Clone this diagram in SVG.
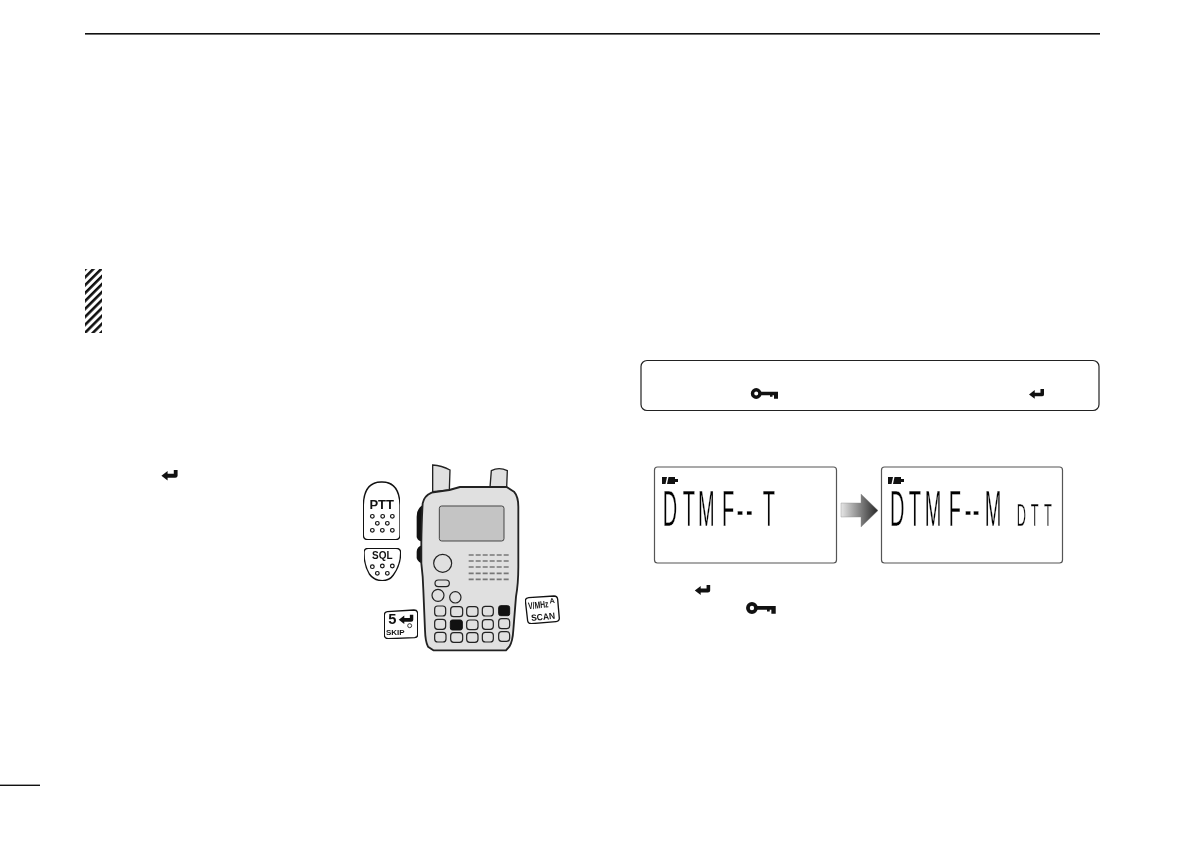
<svg xmlns="http://www.w3.org/2000/svg" width="1191" height="842" viewBox="0 0 1191 842">
<style>
.lcd{font-family:"Liberation Sans",Arial,sans-serif;font-weight:400;fill:#000;stroke:#fff;stroke-width:.45}
.tagt{font-family:"Liberation Sans",Arial,sans-serif;font-weight:700;fill:#111}
.tag{fill:#fff;stroke:#111;stroke-width:4;stroke-linejoin:round}
.dot{fill:#fff;stroke:#111;stroke-width:3.6}
.key{fill:#e0e0e0;stroke:#222;stroke-width:3.6}
.blk{fill:#111;stroke:#111;stroke-width:3}
.spk{stroke:#777;stroke-width:5;stroke-dasharray:15 6;fill:none}
.panel{fill:#fff;stroke:#222;stroke-width:1.2}
.disp{fill:#fff;stroke:#555;stroke-width:1.2}
</style>
<defs>
<filter id="gray" x="0" y="0" width="1" height="1" color-interpolation-filters="sRGB"><feOffset dx="0" dy="0"/></filter>
<linearGradient id="ag" x1="0" x2="1" y1="0" y2="0"><stop offset="0" stop-color="#e6e6e6"/><stop offset="1" stop-color="#262626"/></linearGradient>
<pattern id="hatch" width="5.6" height="5.6" patternUnits="userSpaceOnUse" patternTransform="rotate(45 85 269)"><rect width="5.6" height="5.6" fill="#fff"/><rect x="0" width="2.6" height="5.6" fill="#111"/></pattern>
<symbol id="enter" viewBox="0 0 17 10.5" overflow="visible"><path fill="#111" d="M0 6 6.5 1V4H13V0H17V6Q17 8.2 14.5 8.2H6.5V11Z"/></symbol>
<symbol id="keyi" viewBox="0 0 27 11" overflow="visible"><circle cx="5.2" cy="5.5" r="3.7" fill="none" stroke="#111" stroke-width="3.4"/><path fill="#111" d="M8.5 3.7H27V10.8H23V7.2H21.5V8.8H19V7.2H8.5Z"/></symbol>
<symbol id="batt" viewBox="0 0 16 7" overflow="visible"><path fill="#111" d="M0 0H5L3.5 7H0ZM6.5 0H13V2H16V5H13V7H5Z"/></symbol>
</defs>

<g id="page-rules">
<rect x="85" y="33" width="1015" height="1.6" fill="#111"/>
<rect x="0" y="784.6" width="40" height="1.4" fill="#111"/>
</g>
<rect id="hatch-bar" x="85" y="269" width="17" height="64" fill="url(#hatch)"/>
<use id="enter-left" href="#enter" x="161" y="470" width="17" height="10"/>

<g id="radio" transform="translate(350 450) scale(.33333)">
<path fill="#111" d="M218 165Q200 175 200 200V262Q205 275 218 275ZM218 285Q200 290 200 305V325Q205 340 220 340Z"/>
<path fill="#e0e0e0" stroke="#222" stroke-width="4" d="M248 125V45Q275 46 300 60L298 120ZM420 112 424 62Q447 50 472 62L470 112Z"/>
<path fill="#e0e0e0" stroke="#222" stroke-width="5.5" stroke-linejoin="round" d="M218 160Q222 138 245 128L298 120 330 111H470L492 125Q505 140 505 170V350Q505 400 498 440L490 540Q488 575 478 590L468 601H250L234 590Q226 575 225 540L220 420Q219 380 214 340V280Q215 210 218 160Z"/>
<rect x="268" y="168" width="194" height="105" rx="7" fill="#c4c4c4" stroke="#444" stroke-width="3"/>
<circle cx="278" cy="340" r="27" class="key"/>
<path class="spk" d="M356 315H480M356 333H480M356 351H480M356 370H480M356 388H480"/>
<rect x="255" y="390" width="43" height="20" rx="10" class="key"/>
<circle cx="264" cy="436" r="18" class="key"/>
<circle cx="316" cy="442" r="17" class="key"/>
<g id="keypad">
<rect x="254" y="468" width="33" height="30" rx="9" class="key"/><rect x="302" y="470" width="36" height="30" rx="9" class="key"/><rect x="350" y="470" width="34" height="29" rx="9" class="key"/><rect x="397" y="469" width="33" height="29" rx="9" class="key"/><rect x="446" y="467" width="33" height="30" rx="6" class="blk"/>
<rect x="254" y="508" width="33" height="30" rx="9" class="key"/><rect x="301" y="510" width="36" height="30" rx="6" class="blk"/><rect x="350" y="510" width="34" height="29" rx="9" class="key"/><rect x="397" y="509" width="33" height="29" rx="9" class="key"/><rect x="446" y="506" width="33" height="30" rx="9" class="key"/>
<rect x="254" y="547" width="34" height="29" rx="9" class="key"/><rect x="302" y="548" width="36" height="29" rx="9" class="key"/><rect x="350" y="548" width="34" height="29" rx="9" class="key"/><rect x="397" y="547" width="33" height="29" rx="9" class="key"/><rect x="446" y="545" width="33" height="29" rx="9" class="key"/>
</g>
</g>

<g id="tag-ptt" filter="url(#gray)" transform="translate(350 450) scale(.33333)">
<path class="tag" d="M40 165Q42 95 95 96Q148 95 150 165V255Q150 269 136 269H54Q40 269 40 255Z"/>
<text class="tagt" x="95" y="176" font-size="39" text-anchor="middle">PTT</text>
<g class="dot"><circle cx="67" cy="199" r="5.5"/><circle cx="98" cy="199" r="5.5"/><circle cx="127" cy="199" r="5.5"/><circle cx="82" cy="220" r="5.5"/><circle cx="112" cy="220" r="5.5"/><circle cx="67" cy="241" r="5.5"/><circle cx="97" cy="241" r="5.5"/><circle cx="127" cy="241" r="5.5"/></g>
</g>
<g id="tag-sql" filter="url(#gray)" transform="translate(350 450) scale(.33333)">
<path class="tag" d="M42 308Q42 295 55 295H138Q152 295 152 308Q152 345 130 375Q118 392 97 392Q72 392 58 372Q42 345 42 308Z"/>
<text class="tagt" x="97" y="327" font-size="30" text-anchor="middle">SQL</text>
<g class="dot"><circle cx="67" cy="350" r="5.5"/><circle cx="97" cy="348" r="5.5"/><circle cx="127" cy="348" r="5.5"/><circle cx="82" cy="370" r="5.5"/><circle cx="112" cy="370" r="5.5"/></g>
</g>
<g id="tag-skip" filter="url(#gray)" transform="translate(350 450) scale(.33333)">
<path class="tag" d="M103 495Q103 486 112 485L192 480Q202 480 203 490V555Q203 562 194 563L115 566Q104 566 103 556Z"/>
<text class="tagt" x="115" y="522" font-size="44">5</text>
<use href="#enter" x="146" y="494" width="44" height="27"/>
<circle cx="179" cy="527" r="6" fill="#fff" stroke="#111" stroke-width="2.5"/>
<text class="tagt" x="108" y="556" font-size="24" textLength="56" lengthAdjust="spacingAndGlyphs">SKIP</text>
</g>
<g id="tag-scan" filter="url(#gray)" transform="translate(350 450) scale(.33333)">
<path class="tag" d="M526 452Q526 444 536 443L612 438Q622 438 623 448L628 505Q628 514 618 515L544 521Q534 521 533 513Z"/>
<g transform="rotate(-6 575 480)">
<text class="tagt" x="536" y="474" font-size="29" textLength="61" lengthAdjust="spacingAndGlyphs">V/MHz</text>
<text class="tagt" x="601" y="463" font-size="22" font-weight="400">A</text>
<text class="tagt" x="541" y="510" font-size="27" textLength="72" lengthAdjust="spacingAndGlyphs">SCAN</text>
</g>
</g>

<g id="note-box">
<rect x="641" y="360.5" width="458" height="50" rx="6" class="panel"/>
<use href="#keyi" x="751" y="388" width="27" height="11"/>
<use href="#enter" x="1029" y="389" width="15" height="9.5"/>
</g>

<g id="display-left">
<rect x="654.5" y="467" width="182" height="96" rx="3" class="disp"/>
<use href="#batt" x="662" y="477" width="16" height="7"/>
<g class="lcd" font-size="50" filter="url(#gray)" transform="scale(.4 1)">
<text y="526" x="1657 1707 1745 1805 1842 1865 1907">DTMF--T</text>
</g>
</g>
<g id="arrow"><path fill="url(#ag)" stroke="#888" stroke-width=".4" d="M841 503H861V494L878 510.5 861 527V517H841Z"/></g>
<g id="display-right">
<rect x="881.5" y="467" width="181" height="96" rx="3" class="disp"/>
<use href="#batt" x="888" y="477" width="16" height="7"/>
<g class="lcd" font-size="50" filter="url(#gray)" transform="scale(.4 1)">
<text y="526" x="2225 2272 2312 2372 2412 2432 2462">DTMF--M</text>
</g>
<g class="lcd" font-size="32" filter="url(#gray)" transform="scale(.4 1)">
<text y="526" x="2542 2577 2610">DTT</text>
</g>
</g>
<use id="enter-mid" href="#enter" x="694" y="585" width="17" height="9.5"/>
<use id="key-mid" href="#keyi" x="746" y="602" width="30" height="12"/>
</svg>
